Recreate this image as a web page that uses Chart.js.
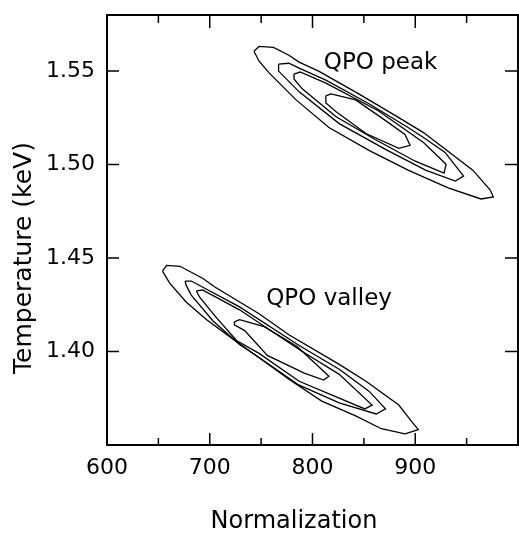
<!DOCTYPE html>
<html>
<head>
<meta charset="utf-8">
<script src="https://cdn.jsdelivr.net/npm/chart.js@4.4.0/dist/chart.umd.min.js"></script>
<style>
  html, body { margin: 0; padding: 0; background: #fff; }
  canvas { display: block; }
</style>
</head>
<body>
<canvas id="contours" width="519" height="533"></canvas>
<script>
// contour vertices, [normalization, temperature (keV)]
var peakOuter = [[743, 1.5606], [748, 1.5632], [762, 1.5627], [777, 1.5585], [787, 1.5548], [806, 1.5500],
  [845, 1.5378], [884, 1.5251], [908, 1.5171], [922, 1.5113], [956, 1.4970], [973, 1.4864], [976, 1.4827],
  [964, 1.4816], [932, 1.4875], [893, 1.4970], [855, 1.5076], [816, 1.5198], [784, 1.5346], [758, 1.5489], [748, 1.5553]];
var peakMiddle = [[767, 1.5537], [777, 1.5542], [787, 1.5516], [813, 1.5452], [855, 1.5325], [893, 1.5198],
  [908, 1.5145], [929, 1.5065], [947, 1.4938], [939, 1.4912], [910, 1.4970], [871, 1.5081], [826, 1.5219],
  [787, 1.5389], [767, 1.5500]];
var peakThird = [[782, 1.5484], [788, 1.5495], [813, 1.5436], [864, 1.5288], [908, 1.5118], [930, 1.5002],
  [928, 1.4954], [900, 1.5018], [861, 1.5134], [823, 1.5256], [790, 1.5405], [782, 1.5458]];
var peakInner = [[813, 1.5368], [818, 1.5378], [842, 1.5346], [867, 1.5251], [890, 1.5161], [895, 1.5103],
  [884, 1.5087], [852, 1.5166], [823, 1.5283], [813, 1.5330]];

var valleyOuter = [[654, 1.4430], [658, 1.4461], [671, 1.4456], [693, 1.4392], [705, 1.4345], [748, 1.4202],
  [777, 1.4090], [826, 1.3931], [852, 1.3841], [884, 1.3714], [896, 1.3629], [903, 1.3582], [890, 1.3560],
  [867, 1.3587], [842, 1.3656], [809, 1.3735], [777, 1.3852], [745, 1.3979], [722, 1.4069], [697, 1.4170],
  [677, 1.4265], [661, 1.4366]];
var valleyMiddle = [[676, 1.4377], [682, 1.4377], [729, 1.4239], [787, 1.4032], [826, 1.3905], [855, 1.3788],
  [871, 1.3693], [862, 1.3666], [826, 1.3725], [787, 1.3820], [748, 1.3968], [729, 1.4037], [703, 1.4165],
  [682, 1.4302], [677, 1.4355]];
var valleyThird = [[687, 1.4324], [693, 1.4329], [729, 1.4223], [787, 1.4011], [826, 1.3878], [858, 1.3714],
  [851, 1.3693], [826, 1.3751], [787, 1.3841], [748, 1.3990], [726, 1.4059], [705, 1.4191], [690, 1.4292]];
var valleyInner = [[724, 1.4159], [729, 1.4170], [753, 1.4133], [785, 1.4027], [816, 1.3868], [811, 1.3847],
  [792, 1.3884], [756, 1.3979], [734, 1.4112], [724, 1.4143]];

var xTickLabels = [600, 700, 800, 900];
var xMajorTicks = [700, 800, 900];
var xMinorTicks = [650, 750, 850, 950];
var yTickLabels = [1.40, 1.45, 1.50, 1.55];

var notes = [
  { text: 'QPO peak', x: 811, y: 1.5542 },
  { text: 'QPO valley', x: 755, y: 1.4281 }
];

var FONT = '"DejaVu Sans", sans-serif';

function toPoints(arr) {
  return arr.concat([arr[0]]).map(function(p) { return { x: p[0], y: p[1] }; });
}

function contour(arr) {
  return {
    data: toPoints(arr),
    showLine: true,
    borderColor: '#000',
    borderWidth: 1.3,
    pointRadius: 0,
    fill: false,
    tension: 0
  };
}

// box, inward ticks, labels inside the plot and the axis titles
var frame = {
  id: 'frame',
  afterDraw: function(chart) {
    var ctx = chart.ctx;
    var a = chart.chartArea;
    var xs = chart.scales.x, ys = chart.scales.y;
    ctx.save();
    ctx.strokeStyle = '#000';
    ctx.lineWidth = 2;
    ctx.strokeRect(a.left, a.top, a.right - a.left, a.bottom - a.top);

    ctx.lineWidth = 1.5;
    ctx.beginPath();
    xMajorTicks.forEach(function(v) {
      var px = xs.getPixelForValue(v);
      ctx.moveTo(px, a.bottom); ctx.lineTo(px, a.bottom - 12);
      ctx.moveTo(px, a.top); ctx.lineTo(px, a.top + 13);
    });
    xMinorTicks.forEach(function(v) {
      var px = xs.getPixelForValue(v);
      ctx.moveTo(px, a.bottom); ctx.lineTo(px, a.bottom - 7);
      ctx.moveTo(px, a.top); ctx.lineTo(px, a.top + 8);
    });
    yTickLabels.forEach(function(v) {
      var py = ys.getPixelForValue(v);
      ctx.moveTo(a.left, py); ctx.lineTo(a.left + 12, py);
      ctx.moveTo(a.right, py); ctx.lineTo(a.right - 13, py);
    });
    ctx.stroke();

    ctx.fillStyle = '#000';
    ctx.font = '23px ' + FONT;
    ctx.textAlign = 'left';
    ctx.textBaseline = 'middle';
    notes.forEach(function(n) {
      ctx.fillText(n.text, xs.getPixelForValue(n.x), ys.getPixelForValue(n.y));
    });

    ctx.textAlign = 'center';
    ctx.font = '24px ' + FONT;
    ctx.fillText('Normalization', 294, 522);

    ctx.font = '25px ' + FONT;
    ctx.translate(24, 258);
    ctx.rotate(-Math.PI / 2);
    ctx.fillText('Temperature (keV)', 0, 0);
    ctx.restore();
  }
};

new Chart(document.getElementById('contours').getContext('2d'), {
  type: 'scatter',
  data: {
    datasets: [
      contour(peakOuter), contour(peakMiddle), contour(peakThird), contour(peakInner),
      contour(valleyOuter), contour(valleyMiddle), contour(valleyThird), contour(valleyInner)
    ]
  },
  options: {
    responsive: false,
    animation: false,
    layout: { padding: { top: 15, right: 1, left: 0, bottom: 0 } },
    plugins: { legend: { display: false }, tooltip: { enabled: false } },
    scales: {
      x: {
        type: 'linear',
        min: 600,
        max: 1000,
        grid: { display: false, drawTicks: false },
        border: { display: false },
        afterBuildTicks: function(s) { s.ticks = xTickLabels.map(function(v) { return { value: v }; }); },
        afterFit: function(s) { s.height = 88; s.paddingLeft = 0; s.paddingRight = 0; },
        ticks: { color: '#000', font: { family: FONT, size: 22 }, padding: 10, maxRotation: 0, autoSkip: false }
      },
      y: {
        type: 'linear',
        min: 1.35,
        max: 1.58,
        grid: { display: false, drawTicks: false },
        border: { display: false },
        afterBuildTicks: function(s) { s.ticks = yTickLabels.map(function(v) { return { value: v }; }); },
        afterFit: function(s) { s.width = 107; s.paddingTop = 0; s.paddingBottom = 0; },
        ticks: {
          color: '#000', font: { family: FONT, size: 22 }, padding: 12, autoSkip: false,
          callback: function(v) { return v.toFixed(2); }
        }
      }
    }
  },
  plugins: [frame]
});
</script>
</body>
</html>
